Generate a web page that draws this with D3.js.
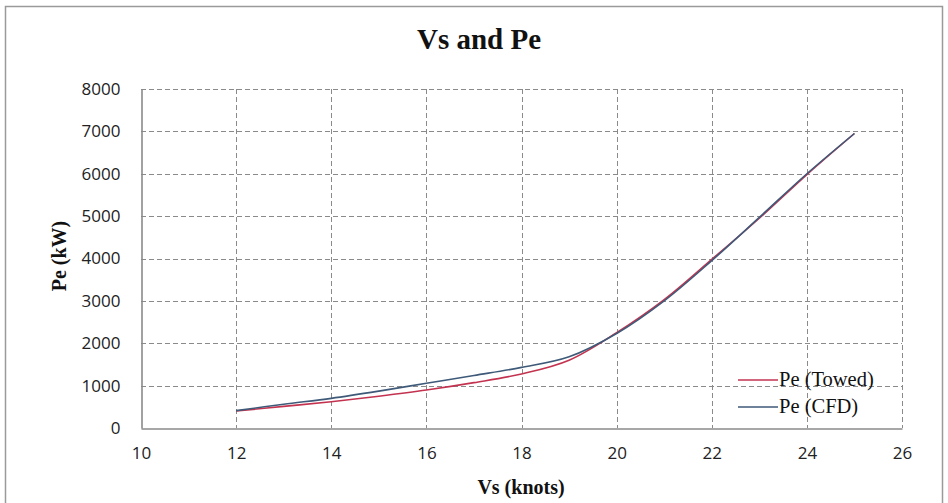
<!DOCTYPE html>
<html><head><meta charset="utf-8">
<script src="https://cdn.jsdelivr.net/npm/d3@7"></script>
<style>html,body{margin:0;padding:0;background:#fff;}svg{display:block;}</style>
</head><body>
<script>
const speeds = [12, 13, 14, 15, 16, 17, 18, 19, 20, 21, 22, 23, 24, 25];
const peTowed = [400, 510, 620, 750, 895, 1070, 1275, 1600, 2250, 3030, 3980, 4950, 5980, 6950];
const peCFD   = [410, 560, 700, 870, 1055, 1240, 1430, 1680, 2230, 3000, 3950, 4970, 6000, 6950];
const xTicks = [10, 12, 14, 16, 18, 20, 22, 24, 26];
const yTicks = [0, 1000, 2000, 3000, 4000, 5000, 6000, 7000, 8000];
const seriesNames = ["Pe (Towed)", "Pe (CFD)"];
const seriesColors = ["#c33350", "#3e5a78"];

const W = 948, H = 503;
const svg = d3.select("body").append("svg").attr("width", W).attr("height", H);

svg.append("rect").attr("x", 5.5).attr("y", 6.5).attr("width", 937).attr("height", 520)
  .attr("fill", "#fff").attr("stroke", "#9a9a9a").attr("stroke-width", 1.5);

const x = d3.scaleLinear().domain([10, 26]).range([141, 902]);
const y = d3.scaleLinear().domain([0, 8000]).range([428, 89]);

const grid = svg.append("g").attr("stroke", "#8a8a8a").attr("stroke-width", 1).attr("stroke-dasharray", "5,3");
grid.selectAll("line.h").data(yTicks.filter(d => d > 0)).join("line")
  .attr("x1", x(10)).attr("x2", x(26)).attr("y1", d => Math.round(y(d)) + 0.5).attr("y2", d => Math.round(y(d)) + 0.5);
grid.selectAll("line.v").data(xTicks.filter(d => d > 10)).join("line")
  .attr("y1", y(8000)).attr("y2", y(0)).attr("x1", d => Math.round(x(d)) + 0.5).attr("x2", d => Math.round(x(d)) + 0.5);

// axes
const xAxis = svg.append("g").attr("transform", `translate(0,${Math.round(y(0)) + 0.5})`)
  .call(d3.axisBottom(x).tickValues(xTicks).tickSize(0).tickPadding(18).tickFormat(d3.format("d")));
const yAxis = svg.append("g").attr("transform", `translate(${Math.round(x(10)) + 0.5},0)`)
  .call(d3.axisLeft(y).tickValues(yTicks).tickSize(0).tickPadding(21).tickFormat(d3.format("d")));
[xAxis, yAxis].forEach(a => {
  a.select(".domain").attr("stroke", "#8a8a8a").attr("stroke-width", 1.6);
  a.selectAll("text").attr("font-family", "'Open Sans', sans-serif").attr("font-size", 17).attr("fill", "#222");
});

// lines
const line = d3.line().x((d, i) => x(speeds[i])).y(d => y(d)).curve(d3.curveCatmullRom.alpha(0.5));
[peTowed, peCFD].forEach((s, k) => {
  svg.append("path").datum(s).attr("d", line).attr("fill", "none")
    .attr("stroke", seriesColors[k]).attr("stroke-width", 1.6);
});

// title
svg.append("text").attr("x", 479).attr("y", 49).attr("text-anchor", "middle")
  .attr("font-family", "'Liberation Serif', serif").attr("font-weight", "bold").attr("font-size", 29)
  .attr("fill", "#111").text("Vs and Pe");
svg.append("text").attr("x", 521).attr("y", 494).attr("text-anchor", "middle")
  .attr("font-family", "'Liberation Serif', serif").attr("font-weight", "bold").attr("font-size", 20)
  .attr("fill", "#111").text("Vs (knots)");
svg.append("text").attr("transform", "translate(66,256) rotate(-90)").attr("text-anchor", "middle")
  .attr("font-family", "'Liberation Serif', serif").attr("font-weight", "bold").attr("font-size", 20)
  .attr("fill", "#111").text("Pe (kW)");

// legend
const lg = svg.append("g");
seriesNames.forEach((n, i) => {
  const yy = 380 + i * 27;
  lg.append("line").attr("x1", 738).attr("x2", 778).attr("y1", yy).attr("y2", yy)
    .attr("stroke", seriesColors[i]).attr("stroke-width", 1.6);
  lg.append("text").attr("x", 779).attr("y", yy + 6).attr("font-family", "'Liberation Serif', serif")
    .attr("font-size", 20.5).attr("fill", "#111").text(n);
});
</script>
</body></html>
